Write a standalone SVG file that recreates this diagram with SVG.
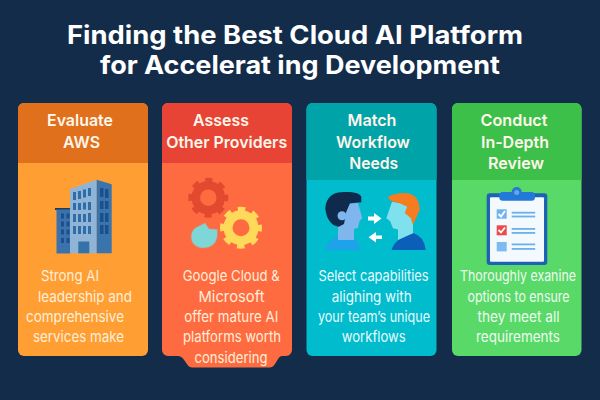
<svg xmlns="http://www.w3.org/2000/svg" width="600" height="400" viewBox="0 0 600 400">
<style>
text{font-family:"Inter","Liberation Sans",sans-serif;text-anchor:middle}
.t{font-size:25.500px;font-weight:700;fill:#fff}
.h{font-size:16.500px;font-weight:600;fill:#fff6ea}
.b{font-size:14.800px;font-weight:400;fill:#ffeeda}
.c{fill:#e8fbfd}
.d{fill:#eefbf0}
.g{fill:none}
.wf{fill:#2f6ca8}.ws{fill:#1c4f8c}
.pl{fill:#6cb0ec}
</style>
<rect width="600" height="400" fill="#132c4a"/>
<g id="title">
<text class="t" x="295" y="43.500" textLength="456" lengthAdjust="spacingAndGlyphs">Finding the Best Cloud AI Platform</text>
<text class="t" x="300" y="74" textLength="400" lengthAdjust="spacingAndGlyphs">for Accelerat ing Development</text>
</g>
<g id="connectors"/>
<g id="card-evaluate">
<rect x="18" y="103" width="130" height="253" rx="6" fill="#ff9f33"/>
<path d="M18 163V109a6 6 0 0 1 6-6H142a6 6 0 0 1 6 6V163Z" fill="#e0701c"/>
<text class="h" x="80" y="126" textLength="66" lengthAdjust="spacingAndGlyphs">Evaluate</text>
<text class="h" x="81.500" y="148" textLength="37" lengthAdjust="spacingAndGlyphs">AWS</text>
<g id="icon-building">
<path d="M55 208h15.500v2H55z" fill="#1d3c5c"/>
<rect x="56.500" y="209.500" width="14" height="44" fill="#3b72ae"/>
<path d="M70 189 96.700 179.700V253.300H70Z" fill="#8fb4d6"/>
<path d="M96.700 179.700 111.700 184.300V253.300H96.700Z" fill="#3a74ad"/>
<rect x="78.300" y="241.500" width="11" height="11.800" fill="#3672aa"/>
<g class="ws">
<rect x="61" y="213.500" width="3" height="5"/><rect x="66.500" y="213.500" width="3" height="5"/>
<rect x="61" y="221.500" width="3" height="5"/><rect x="66.500" y="221.500" width="3" height="5"/>
<rect x="61" y="229.500" width="3" height="5"/><rect x="66.500" y="229.500" width="3" height="5"/>
<rect x="61" y="238" width="3" height="5"/><rect x="66.500" y="238" width="3" height="5"/>
<rect x="100" y="188" width="3.500" height="9"/><rect x="105" y="189" width="3.500" height="9"/>
<rect x="100" y="201" width="3.500" height="8"/><rect x="105" y="201" width="3.500" height="8"/>
<rect x="100" y="213" width="3.500" height="9"/><rect x="105" y="213" width="3.500" height="9"/>
<rect x="100" y="225" width="3.500" height="9"/><rect x="105" y="225" width="3.500" height="9"/>
</g>
<g class="wf">
<rect x="73" y="192" width="3" height="8"/><rect x="78" y="191" width="3" height="8"/><rect x="83" y="189.500" width="3" height="8"/><rect x="88" y="188" width="3" height="8"/>
<rect x="73" y="203" width="3" height="7"/><rect x="78" y="203" width="3" height="7"/><rect x="83" y="202.500" width="3" height="7"/><rect x="88" y="202" width="3" height="8"/>
<rect x="73" y="214" width="3" height="8"/><rect x="78" y="214" width="3" height="8"/><rect x="83" y="214" width="3" height="8"/><rect x="88" y="213" width="3" height="9"/>
<rect x="73" y="226" width="3" height="8"/><rect x="78" y="226" width="3" height="8"/><rect x="83" y="226" width="3" height="8"/><rect x="88" y="226" width="3" height="8"/>
</g>
</g>
<text class="b" x="70" y="281" textLength="58" lengthAdjust="spacingAndGlyphs">Strong AI</text>
<text class="b" x="85" y="302" textLength="94" lengthAdjust="spacingAndGlyphs">leadership and</text>
<text class="b" x="75" y="322" textLength="98" lengthAdjust="spacingAndGlyphs">comprehensive</text>
<text class="b" x="78.500" y="342" textLength="91" lengthAdjust="spacingAndGlyphs">services make</text>
</g>
<g id="card-assess">
<path d="M168 103H286a6 6 0 0 1 6 6V350a6 6 0 0 1-6 6H282C277 356 276 367.500 270 367.500H192C186 367.500 185 356 178 356H168a6 6 0 0 1-6-6V109a6 6 0 0 1 6-6Z" fill="#ff6b40"/>
<path d="M162 163V109a6 6 0 0 1 6-6H286a6 6 0 0 1 6 6V163Z" fill="#e84435"/>
<text class="h" x="221" y="126" textLength="56" lengthAdjust="spacingAndGlyphs">Assess</text>
<text class="h" x="226.700" y="148" textLength="121" lengthAdjust="spacingAndGlyphs">Other Providers</text>
<g id="icon-gears">
<circle cx="208.300" cy="197.700" r="12.500" class="g" stroke="#e2492f" stroke-width="8.500"/>
<circle cx="208.300" cy="197.700" r="17.500" class="g" stroke="#e2492f" stroke-width="5" stroke-dasharray="7 6.740" stroke-dashoffset="3.500"/>
<circle cx="241" cy="227.700" r="13" class="g" stroke="#ffd95a" stroke-width="9"/>
<circle cx="241" cy="227.700" r="18.500" class="g" stroke="#ffd95a" stroke-width="5" stroke-dasharray="7.500 7.030" stroke-dashoffset="3.750"/>
<path d="M205 222.700 209 228.700 217.300 229.300C218 236 217 241 214 244 209 249 199 249.500 194.500 245 190 241 190 233 194 229 197 226 202 225 205 222.700Z" fill="#7fd6d6" stroke="#cf8f70" stroke-width=".6"/>
</g>
<text class="b" x="231.300" y="281" textLength="97" lengthAdjust="spacingAndGlyphs">Google Cloud &amp;</text>
<text class="b" x="231.500" y="302" textLength="66" lengthAdjust="spacingAndGlyphs">Microsoft</text>
<text class="b" x="231.300" y="322" textLength="94" lengthAdjust="spacingAndGlyphs">offer mature AI</text>
<text class="b" x="232" y="342" textLength="98" lengthAdjust="spacingAndGlyphs">platforms worth</text>
<text class="b" x="231" y="363" textLength="73" lengthAdjust="spacingAndGlyphs">considering</text>
</g>
<g id="card-match">
<rect x="306.500" y="103" width="130" height="253" rx="6" fill="#00bccd"/>
<path d="M306.500 180V109a6 6 0 0 1 6-6H430.500a6 6 0 0 1 6 6V180Z" fill="#00a3a8"/>
<text class="h" x="372" y="126" textLength="49" lengthAdjust="spacingAndGlyphs">Match</text>
<text class="h" x="373" y="148" textLength="74" lengthAdjust="spacingAndGlyphs">Workflow</text>
<text class="h" x="373.700" y="169" textLength="49" lengthAdjust="spacingAndGlyphs">Needs</text>
<g id="icon-people">
<path d="M325 250Q329 237 342 236L350 236Q358 238 360 250Z" fill="#1da3ea"/>
<path d="M338 240V205L358 203 362.300 218.300 359.500 221 358 227.700 354 229V240Z" fill="#7fb6ee"/>
<path d="M325.300 208C326 198 333 192.300 341.300 192.300 350 191 361 193 361.300 197L361.300 202.300 350 203.300 346.300 211.700 344 224 338.700 226.700C331 226 326 218 325.300 208Z" fill="#0f2a4d"/>
<circle cx="342" cy="215.700" r="4.500" fill="#7fb6ee"/>
<path d="M391.500 250Q395 238 413 233Q424 236 425.700 250Z" fill="#0c5fb8"/>
<path d="M392 201.700 386.300 218.300 390 221 393 228.300 398 229.500V240L413 233.300V205Z" fill="#7fe0ee"/>
<path d="M388 196.700Q401 191 411.300 194.300Q419.700 198 419.700 210L413 225 410.700 218 404.700 213 407.300 206.700 399.700 203.300 393 201.700Q389 200 388 196.700Z" fill="#f57c20"/>
<polygon points="368,216.500 374,216.500 374,213 381.500,218.500 374,224 374,220.500 368,220.500" fill="#fff"/>
<polygon points="382,235.500 376,235.500 376,232 368.500,237.300 376,242.500 376,239 382,239" fill="#fff"/>
</g>
<text class="b c" x="373.500" y="281" textLength="110" lengthAdjust="spacingAndGlyphs">Select capabilities</text>
<text class="b c" x="371.700" y="302" textLength="80" lengthAdjust="spacingAndGlyphs">alighing with</text>
<text class="b c" x="374" y="322" textLength="112" lengthAdjust="spacingAndGlyphs">your team’s unique</text>
<text class="b c" x="373.700" y="342" textLength="64" lengthAdjust="spacingAndGlyphs">workflows</text>
</g>
<g id="card-conduct">
<rect x="452" y="103" width="129.500" height="253" rx="6" fill="#58d968"/>
<path d="M452 180V109a6 6 0 0 1 6-6H575.500a6 6 0 0 1 6 6V180Z" fill="#3cc04a"/>
<text class="h" x="514" y="126" textLength="67" lengthAdjust="spacingAndGlyphs">Conduct</text>
<text class="h" x="515" y="148" textLength="68" lengthAdjust="spacingAndGlyphs">In-Depth</text>
<text class="h" x="516" y="169" textLength="56" lengthAdjust="spacingAndGlyphs">Review</text>
<g id="icon-clipboard">
<rect x="486.700" y="193.300" width="60.600" height="71.700" rx="3" fill="#1e62b8"/>
<rect x="490" y="197.300" width="54" height="64.400" rx="1" fill="#f4f9fd"/>
<circle cx="516.700" cy="192" r="5" fill="#2478d8"/>
<rect x="499.300" y="192" width="35.700" height="8.700" rx="3.500" fill="#2478d8"/>
<circle cx="516.700" cy="192.500" r="2.500" fill="#6aa6e0"/>
<rect x="496.700" y="209.300" width="10" height="9.400" fill="#6fb4f0"/>
<path d="M498.500 214 501 216.500 505 211" class="g" stroke="#fff" stroke-width="1.800"/>
<rect x="496.700" y="225.300" width="10" height="10" fill="#ec4a4a"/>
<path d="M498.500 230 501 232.500 505 227.500" class="g" stroke="#fff" stroke-width="1.800"/>
<rect x="496.700" y="242" width="10" height="9.400" fill="#7dbcf2"/>
<g class="pl">
<rect x="511.700" y="211.800" width="23.500" height="1.800"/><rect x="511.700" y="215.600" width="23.500" height="1.800"/>
<rect x="511.700" y="228" width="23.500" height="1.800"/><rect x="511.700" y="232" width="23.500" height="1.800"/>
<rect x="511.700" y="243.500" width="23.500" height="1.800"/><rect x="511.700" y="248" width="23.500" height="1.800"/>
</g>
</g>
<text class="b d" x="518" y="281" textLength="116" lengthAdjust="spacingAndGlyphs">Thoroughly exanine</text>
<text class="b d" x="518.500" y="302" textLength="102" lengthAdjust="spacingAndGlyphs">options to ensure</text>
<text class="b d" x="518.500" y="322" textLength="82" lengthAdjust="spacingAndGlyphs">they meet all</text>
<text class="b d" x="518" y="342" textLength="84" lengthAdjust="spacingAndGlyphs">requirements</text>
</g>
</svg>
